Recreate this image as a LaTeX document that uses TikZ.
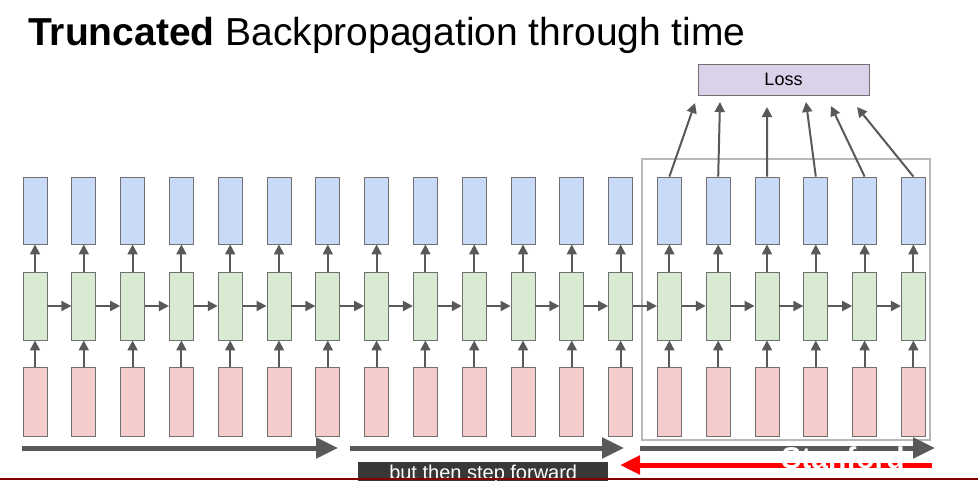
\documentclass[tikz,border=0pt]{standalone}
\usepackage{fontspec}
\setmainfont{Liberation Sans}
\usetikzlibrary{arrows.meta}
\definecolor{outcol}{HTML}{C9DAF8}
\definecolor{hidcol}{HTML}{D9EAD3}
\definecolor{incol}{HTML}{F4CCCC}
\definecolor{losscol}{HTML}{D9D2E9}
\definecolor{edgecol}{HTML}{707070}
\definecolor{arrcol}{HTML}{595959}
\tikzset{
  cell/.style={
    draw=edgecol,
    line width=0.9pt,
    minimum width=24pt,
    inner sep=0pt
  },
  outcell/.style={cell, fill=outcol, minimum height=67pt},
  hidcell/.style={cell, fill=hidcol, minimum height=68pt},
  incell/.style={cell, fill=incol, minimum height=69pt},
  flow/.style={
    draw=arrcol,
    line width=2pt,
    -{Triangle[length=10pt,width=10pt]}
  },
  bigflow/.style={
    draw=arrcol,
    line width=5pt,
    -{Triangle[length=22pt,width=20pt]}
  }
}

\begin{document}
\begin{tikzpicture}[x=1pt,y=-1pt]
    \useasboundingbox (0,0) rectangle (978,480);
    \node[anchor=base west, font=\fontsize{39}{44}\selectfont, inner sep=0pt] (title) at (28,45)
        {\textbf{Truncated} Backpropagation through time};
    % window of the last chunk
    \draw[draw=black!28, line width=2.2pt] (642,159) rectangle (930,440);
    \foreach \i in {0,...,18}{
            \node[outcell] (h\i) at (35+48.8*\i,210.5) {};
            \node[hidcell] (g\i) at (35+48.8*\i,306) {};
            \node[incell] (r\i) at (35+48.8*\i,401.5) {};
            \draw[flow] (r\i) -- (g\i);
            \draw[flow] (g\i) -- (h\i);
        }
    \foreach \i [evaluate=\i as \j using int(\i+1)] in {0,...,17}{
            \draw[flow] (g\i) -- (g\j);
        }
    \node[draw=edgecol, line width=0.9pt, fill=losscol, minimum width=171pt, minimum height=31pt,
          font=\fontsize{18}{20}\selectfont] (loss) at (783.5,79.5) {Loss};
    \coordinate (l13) at (695,103);
    \coordinate (l14) at (720,102);
    \coordinate (l15) at (767,107);
    \coordinate (l16) at (806,102);
    \coordinate (l17) at (831,106);
    \coordinate (l18) at (857,107);
    \foreach \i in {13,...,18}{
            \draw[flow] (h\i.north) -- (l\i);
        }
    % forward passes along the sequence
    \coordinate (a0) at (22,448);
    \coordinate (a1) at (338,448);
    \coordinate (b0) at (350,448);
    \coordinate (b1) at (624,448);
    \coordinate (c0) at (640,448);
    \coordinate (c1) at (935,448);
    \draw[bigflow] (a0) -- (a1);
    \draw[bigflow] (b0) -- (b1);
    \draw[bigflow] (c0) -- (c1);
    \coordinate (d0) at (932,465);
    \coordinate (d1) at (620,465);
    \draw[draw=red, line width=5pt, -{Triangle[length=20pt,width=18pt]}] (d0) -- (d1);
    \node[text=white, font=\bfseries\fontsize{30}{32}\selectfont, inner sep=0pt] (mark) at (843,458) {Stanford};
    \node[fill=black!78, text=white, anchor=north west, minimum width=250pt, minimum height=24pt,
          inner sep=0pt, font=\fontsize{20}{22}\selectfont] (sub) at (358,462) {\raisebox{-9pt}{but then step forward}};
    \draw[draw=red!50!black, line width=1.2pt] (0,479) -- (978,479);
\end{tikzpicture}
\end{document}
